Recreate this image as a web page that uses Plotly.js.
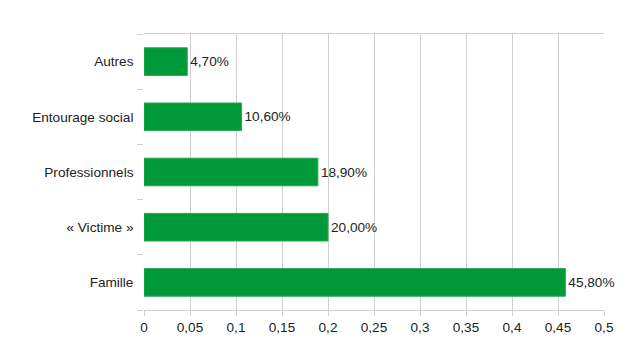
<!DOCTYPE html>
<html><head><meta charset="utf-8">
<script src="https://cdn.plot.ly/plotly-3.0.1.min.js"></script>
<style>html,body{margin:0;padding:0;background:#fff}#c{width:640px;height:360px}</style>
</head><body><div id="c"></div>
<script>
const categories = ["Famille", "« Victime »", "Professionnels", "Entourage social", "Autres"];
const values = [0.458, 0.200, 0.189, 0.106, 0.047];
const tickVals = [0, 0.05, 0.1, 0.15, 0.2, 0.25, 0.3, 0.35, 0.4, 0.45, 0.5];

const labels = values.map(v => (v * 100).toFixed(2).replace('.', ',') + '%');

const trace = {
  type: 'bar', orientation: 'h',
  y: categories, x: values,
  text: labels, textposition: 'outside', cliponaxis: false, constraintext: 'none',
  textfont: {family: 'Liberation Sans, Arial, sans-serif', size: 13.6, color: '#222'},
  marker: {color: '#00993a', line: {color: '#2aa64e', width: 1}},
  hoverinfo: 'none'
};

const layout = {
  width: 640, height: 360,
  margin: {l: 144, r: 36, t: 34, b: 50},
  paper_bgcolor: '#fff', plot_bgcolor: '#fff',
  separators: ',.',
  bargap: 0.5,
  showlegend: false,
  font: {family: 'Liberation Sans, Arial, sans-serif', size: 13.6, color: '#222'},
  xaxis: {
    range: [0, 0.5], tickvals: tickVals, tickformat: '.3~f',
    showgrid: true, gridcolor: '#d0d0d0', gridwidth: 1,
    zeroline: false, showline: true, linecolor: '#d0d0d0', mirror: true,
    ticks: 'outside', ticklen: 5, tickcolor: '#d0d0d0',
    tickfont: {size: 13.6, color: '#222'}, fixedrange: true
  },
  yaxis: {
    type: 'category', categoryorder: 'array', categoryarray: categories,
    tickson: 'boundaries', ticks: 'outside', ticklen: 6, tickcolor: '#d0d0d0',
    showgrid: false, showline: false, zeroline: false,
    ticksuffix: '  ', ticklabelstandoff: 2,
    tickfont: {size: 13.6, color: '#222'}, fixedrange: true
  }
};

Plotly.newPlot('c', [trace], layout, {displayModeBar: false, staticPlot: true});
</script></body></html>
